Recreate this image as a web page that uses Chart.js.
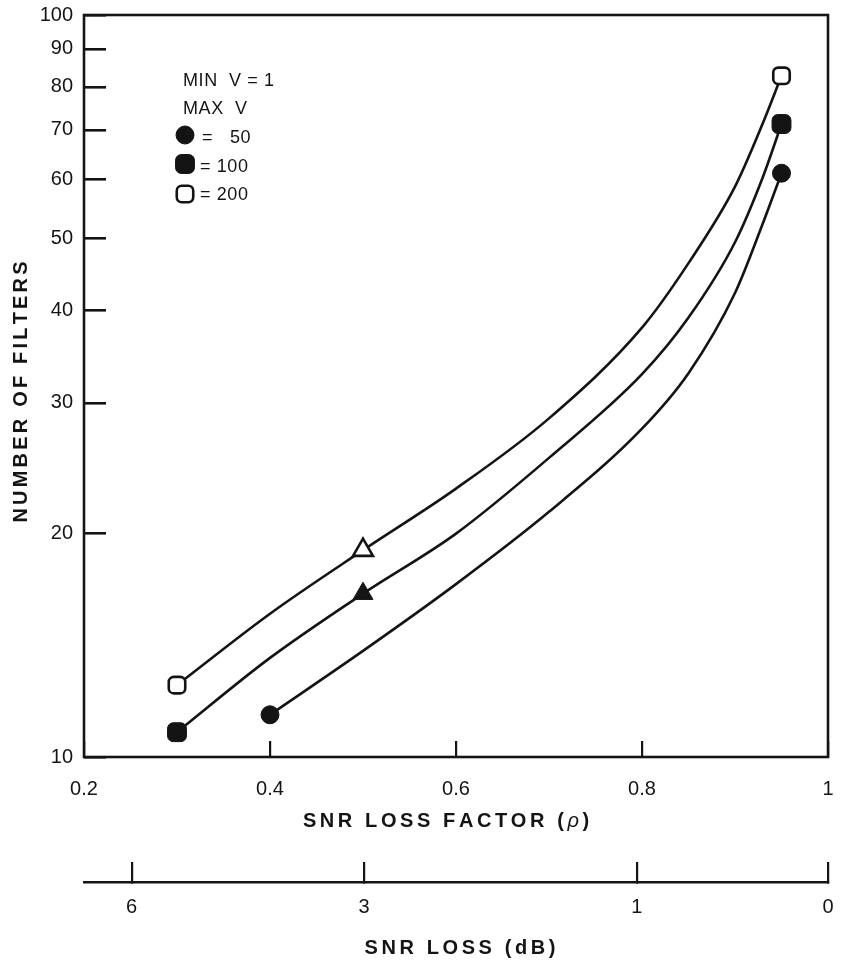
<!DOCTYPE html>
<html>
<head>
<meta charset="utf-8">
<script src="https://cdn.jsdelivr.net/npm/chart.js@4.4.1/dist/chart.umd.min.js"></script>
<style>
  html, body { margin: 0; padding: 0; background: #fff; }
  canvas { display: block; }
</style>
</head>
<body>
<canvas id="chart" width="843" height="963"></canvas>
<script>
// axis ticks
const rhoTicks = [0.2, 0.4, 0.6, 0.8, 1];
const filterTicks = [10, 20, 30, 40, 50, 60, 70, 80, 90, 100];
const lossDbTicks = [6, 3, 1, 0];

// curves (max V = 50, 100, 200)
const rho50 = [0.4, 0.5, 0.6, 0.7, 0.8, 0.85, 0.9, 0.93, 0.95];
const filters50 = [11.4, 13.9, 17.1, 21.4, 27.7, 32.9, 42.2, 52.4, 61.2];
const rho100 = [0.3, 0.4, 0.5, 0.6, 0.7, 0.8, 0.85, 0.9, 0.93, 0.95];
const filters100 = [10.8, 13.6, 16.6, 20.0, 25.3, 32.8, 39.1, 49.4, 60.5, 71.3];
const rho200 = [0.3, 0.4, 0.5, 0.6, 0.7, 0.8, 0.85, 0.9, 0.93, 0.95];
const filters200 = [12.5, 15.6, 19.0, 23.0, 28.6, 37.9, 46.3, 58.7, 71.5, 82.8];

// plotted symbols
const markRho50 = [0.4, 0.95];
const markFilters50 = [11.4, 61.2];
const markRho100 = [0.3, 0.5, 0.95];
const markFilters100 = [10.8, 16.6, 71.3];
const markRho200 = [0.3, 0.5, 0.95];
const markFilters200 = [12.5, 19.0, 82.8];

const ink = "#141414";
const FONT = "'Liberation Sans', Arial, Helvetica, sans-serif";

const pts = (xs, ys) => xs.map((x, i) => ({ x: x, y: ys[i] }));

function curve(xs, ys) {
  return {
    data: pts(xs, ys),
    borderColor: ink,
    borderWidth: 2.6,
    pointRadius: 0,
    fill: false,
    cubicInterpolationMode: "monotone"
  };
}

function marks(xs, ys, style, radius, fillColor, bw) {
  return {
    data: pts(xs, ys),
    showLine: false,
    pointStyle: style,
    pointRadius: radius,
    pointBackgroundColor: fillColor,
    pointBorderColor: ink,
    pointBorderWidth: bw
  };
}

// labels sit where the ticks put them; don't let their padding shrink the plot
function noPad(s) {
  s.paddingLeft = 0;
  s.paddingRight = 0;
  s.paddingTop = 0;
  s.paddingBottom = 0;
}

function drawSpaced(ctx, parts, x, y, gap, align) {
  const glyphs = [];
  parts.forEach(([text, font]) => {
    ctx.font = font;
    for (const ch of text) glyphs.push([ch, font, ctx.measureText(ch).width]);
  });
  const total = glyphs.reduce((s, g) => s + g[2], 0) + gap * (glyphs.length - 1);
  let cx = align === "left" ? x : x - total / 2;
  ctx.textAlign = "left";
  glyphs.forEach(([ch, font, w]) => {
    ctx.font = font;
    ctx.fillText(ch, cx, y);
    cx += w + gap;
  });
}

function symbol(ctx, style, radius, x, y, fillColor, bw) {
  ctx.fillStyle = fillColor;
  ctx.strokeStyle = ink;
  ctx.lineWidth = bw;
  if (Chart.helpers && Chart.helpers.drawPoint) {
    Chart.helpers.drawPoint(ctx, { pointStyle: style, rotation: 0, radius: radius, borderWidth: bw }, x, y);
  } else {
    ctx.beginPath();
    if (style === "circle") ctx.arc(x, y, radius, 0, Math.PI * 2);
    else ctx.rect(x - radius * 0.86, y - radius * 0.86, radius * 1.72, radius * 1.72);
    ctx.fill();
    if (bw > 0) ctx.stroke();
  }
}

const paper = {
  id: "paper",
  afterDraw(chart) {
    const { ctx, chartArea: a, scales } = chart;
    ctx.save();
    // frame
    ctx.strokeStyle = ink;
    ctx.lineWidth = 2.6;
    ctx.strokeRect(a.left, a.top, a.right - a.left, a.bottom - a.top);

    // key in the upper left
    ctx.fillStyle = ink;
    ctx.textBaseline = "alphabetic";
    const kf = "18px " + FONT;
    const lx = a.left + 99;
    drawSpaced(ctx, [["MIN  V = 1", kf]], lx, a.top + 71, 0.6, "left");
    drawSpaced(ctx, [["MAX  V", kf]], lx, a.top + 99, 0.6, "left");
    symbol(ctx, "circle", 9, lx + 2, a.top + 120, ink, 1);
    ctx.fillStyle = ink;
    drawSpaced(ctx, [["=", kf]], lx + 19, a.top + 128, 0, "left");
    drawSpaced(ctx, [["50", kf]], lx + 47, a.top + 128, 0.6, "left");
    symbol(ctx, "rectRounded", 11, lx + 2, a.top + 149, ink, 1);
    ctx.fillStyle = ink;
    drawSpaced(ctx, [["= 100", kf]], lx + 17, a.top + 157, 0.6, "left");
    symbol(ctx, "rectRounded", 9.6, lx + 2, a.top + 179, "#fff", 2.6);
    ctx.fillStyle = ink;
    drawSpaced(ctx, [["= 200", kf]], lx + 17, a.top + 185, 0.6, "left");

    // axis titles
    const bf = "bold 20px " + FONT;
    drawSpaced(ctx, [["SNR LOSS FACTOR (", bf], ["\u03C1", "italic 20px " + FONT], [")", bf]],
      (a.left + a.right) / 2 - 10, a.bottom + 70, 3.6, "center");
    drawSpaced(ctx, [["SNR LOSS (dB)", bf]], (a.left + a.right) / 2 + 4, scales.x2.top + 72, 3.6, "center");
    ctx.translate(27, (a.top + a.bottom) / 2 + 6);
    ctx.rotate(-Math.PI / 2);
    drawSpaced(ctx, [["NUMBER OF FILTERS", bf]], 0, 0, 3.2, "center");
    ctx.restore();
  }
};

new Chart(document.getElementById("chart"), {
  type: "line",
  data: {
    datasets: [
      marks(markRho200, markFilters200, ["rectRounded", "triangle", "rectRounded"], [9.6, 11.5, 9.6], "#fff", 2.6),
      marks(markRho100, markFilters100, ["rectRounded", "triangle", "rectRounded"], [11, 11.5, 11], ink, 1),
      marks(markRho50, markFilters50, "circle", 9, ink, 1),
      curve(rho200, filters200),
      curve(rho100, filters100),
      curve(rho50, filters50)
    ]
  },
  options: {
    responsive: false,
    animation: false,
    events: [],
    layout: { padding: { top: 15, right: 15, left: 0, bottom: 0 } },
    plugins: {
      legend: { display: false },
      tooltip: { enabled: false }
    },
    scales: {
      x: {
        type: "linear",
        position: "bottom",
        min: 0.2,
        max: 1,
        weight: 0,
        afterBuildTicks: (s) => { s.ticks = rhoTicks.map(v => ({ value: v })); },
        afterFit: (s) => { s.height = 125; noPad(s); },
        grid: { drawOnChartArea: false, drawTicks: true, tickLength: -16, color: ink, lineWidth: 2.2 },
        border: { display: false },
        ticks: {
          padding: 36,
          color: ink,
          autoSkip: false,
          maxRotation: 0,
          font: { family: FONT, size: 20 },
          callback: (v) => (v === 1 ? "1" : v.toFixed(1))
        }
      },
      x2: {
        type: "linear",
        position: "bottom",
        min: 0.2,
        max: 1,
        weight: 1,
        afterBuildTicks: (s) => { s.ticks = lossDbTicks.map(db => ({ value: Math.pow(10, -db / 10) })); },
        afterFit: (s) => { s.height = 81; noPad(s); },
        grid: { drawOnChartArea: false, drawTicks: true, tickLength: -20, color: ink, lineWidth: 2.2 },
        border: { display: true, color: ink, width: 2.6 },
        ticks: {
          padding: 33,
          color: ink,
          autoSkip: false,
          maxRotation: 0,
          font: { family: FONT, size: 20 },
          callback: (v, i) => String(lossDbTicks[i])
        }
      },
      y: {
        type: "logarithmic",
        position: "left",
        min: 10,
        max: 100,
        afterBuildTicks: (s) => { s.ticks = filterTicks.map(v => ({ value: v })); },
        afterFit: (s) => { s.width = 84; noPad(s); },
        grid: { drawOnChartArea: false, drawTicks: true, tickLength: -22, color: ink, lineWidth: 2.6 },
        border: { display: false },
        ticks: {
          padding: 33,
          color: ink,
          autoSkip: false,
          font: { family: FONT, size: 20 },
          callback: (v) => String(v)
        }
      }
    }
  },
  plugins: [paper]
});
</script>
</body>
</html>
